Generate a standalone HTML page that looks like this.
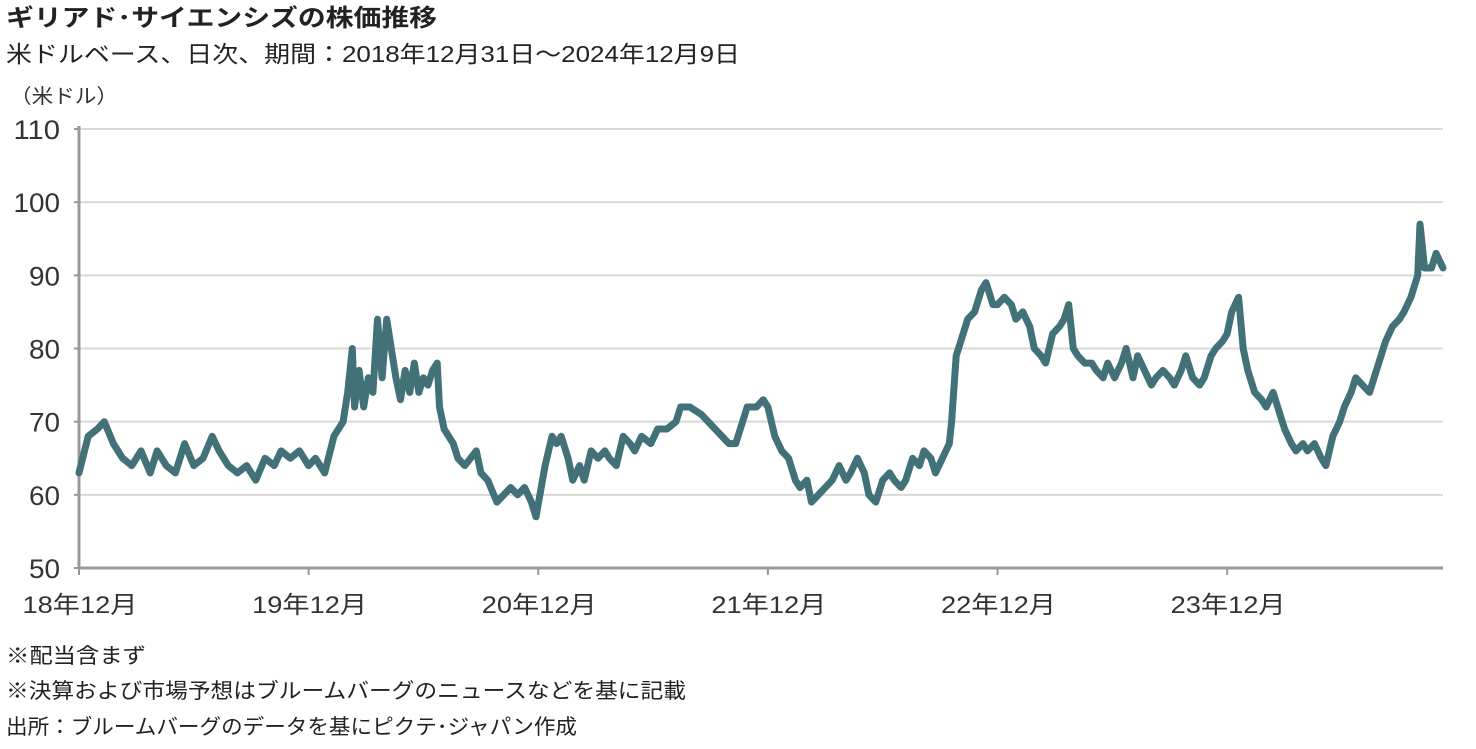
<!DOCTYPE html>
<html><head><meta charset="utf-8">
<style>
body{margin:0;background:#fff;width:1476px;height:749px;overflow:hidden;font-family:"Liberation Sans","Noto Sans CJK JP",sans-serif;color:#222}
</style></head><body>
<svg id="chart" width="1476" height="749" style="position:absolute;left:0;top:0" font-family='"Liberation Sans","Noto Sans CJK JP",sans-serif'>
<text x="6" y="26" font-size="24" font-weight="bold" fill="#222" textLength="431" lengthAdjust="spacingAndGlyphs">ギリアド･サイエンシズの株価推移</text>
<text x="6" y="62" font-size="23" fill="#222" textLength="734" lengthAdjust="spacingAndGlyphs">米ドルベース、日次、期間：2018年12月31日～2024年12月9日</text>
<text x="10" y="103" font-size="20" fill="#333" textLength="108" lengthAdjust="spacingAndGlyphs">（米ドル）</text>
<text x="6" y="663" font-size="21" fill="#222" textLength="140" lengthAdjust="spacingAndGlyphs">※配当含まず</text>
<text x="6" y="698" font-size="21" fill="#222" textLength="680" lengthAdjust="spacingAndGlyphs">※決算および市場予想はブルームバーグのニュースなどを基に記載</text>
<text x="6" y="734" font-size="21" fill="#222" textLength="571" lengthAdjust="spacingAndGlyphs">出所：ブルームバーグのデータを基にピクテ･ジャパン作成</text>
</svg>
<script>
const yTicks=[50,60,70,80,90,100,110];
const xTickLabels=["18年12月","19年12月","20年12月","21年12月","22年12月","23年12月"];
const xTickYears=[0,1,2,3,4,5];
const tYears=[0,.04,.08,.11,.15,.19,.23,.27,.31,.34,.38,.42,.46,.50,.54,.58,.61,.65,.69,.73,.77,.81,.85,.88,.92,.96,1.00,
1.03,1.07,1.11,1.15,1.17,1.19,1.20,1.22,1.24,1.26,1.28,1.30,1.32,1.34,1.36,1.38,1.40,1.42,1.44,1.46,1.48,1.50,1.52,1.54,1.56,1.57,1.59,1.63,1.65,1.68,1.73,1.75,1.78,1.82,1.85,1.88,1.91,1.94,1.97,1.99,
2.03,2.06,2.08,2.10,2.13,2.15,2.18,2.20,2.23,2.26,2.29,2.31,2.34,2.37,2.40,2.42,2.45,2.49,2.52,2.56,2.60,2.62,2.66,2.71,2.74,2.77,2.80,2.83,2.86,2.89,2.91,2.95,2.98,3.00,
3.03,3.06,3.09,3.12,3.14,3.17,3.19,3.22,3.25,3.28,3.31,3.34,3.36,3.39,3.42,3.44,3.47,3.50,3.53,3.55,3.58,3.60,3.63,3.66,3.68,3.71,3.73,3.76,3.79,3.80,3.82,3.85,3.87,3.90,3.93,3.95,3.98,4.00,
4.03,4.06,4.08,4.11,4.14,4.16,4.19,4.21,4.24,4.27,4.29,4.31,4.33,4.35,4.38,4.41,4.43,4.46,4.48,4.51,4.54,4.56,4.59,4.61,4.64,4.67,4.69,4.72,4.75,4.77,4.80,4.82,4.85,4.88,4.90,4.93,4.95,4.98,5.00,
5.02,5.05,5.07,5.09,5.12,5.15,5.17,5.20,5.22,5.25,5.28,5.30,5.33,5.35,5.38,5.41,5.43,5.46,5.49,5.51,5.54,5.56,5.59,5.62,5.64,5.67,5.69,5.72,5.75,5.77,5.80,5.83,5.84,5.86,5.89,5.91,5.94];
const prices=[63,68,69,70,67,65,64,66,63,66,64,63,67,64,65,68,66,64,63,64,62,65,64,66,65,66,64,
65,63,68,70,74,80,72,77,72,76,74,84,76,84,80,76,73,77,74,78,74,76,75,77,78,72,69,67,65,64,66,63,62,59,60,61,60,61,59,57,
64,68,67,68,65,62,64,62,66,65,66,65,64,68,67,66,68,67,69,69,70,72,72,71,70,69,68,67,67,70,72,72,73,72,
68,66,65,62,61,62,59,60,61,62,64,62,63,65,63,60,59,62,63,62,61,62,65,64,66,65,63,65,67,70,79,82,84,85,88,89,86,86,
87,86,84,85,83,80,79,78,82,83,84,86,80,79,78,78,77,76,78,76,78,80,76,79,77,75,76,77,76,75,77,79,76,75,76,79,80,81,82,
85,87,80,77,74,73,72,74,72,69,67,66,67,66,67,65,64,68,70,72,74,76,75,74,76,79,81,83,84,85,87,90,97,91,91,93,91];
const svg=document.getElementById('chart');const NS='http://www.w3.org/2000/svg';
const X0=79,X1=1443,Y0=568,Y1=129;
const xs=t=>X0+t/5.94*(X1-X0);
const ys=v=>Y0-(v-50)/60*(Y0-Y1);
function mk(tag,a){const e=document.createElementNS(NS,tag);for(const k in a)e.setAttribute(k,a[k]);svg.appendChild(e);return e;}
yTicks.forEach(v=>{
  if(v>50){const g=mk('line',{x1:X0,x2:X1,y1:ys(v),y2:ys(v),stroke:'#d9d9d9','stroke-width':2});
  
  }
  const tk=mk('line',{x1:X0-5,x2:X0,y1:ys(v),y2:ys(v),stroke:'#999','stroke-width':2});
  
  
  const tx=mk('text',{x:60,y:ys(v)+10,'text-anchor':'end','font-size':27,fill:'#333',textLength:(String(v).length*15.5),lengthAdjust:'spacingAndGlyphs'});
  tx.textContent=v;
  
  
});
const ax=mk('line',{x1:X0,x2:X0,y1:Y1-3,y2:Y0,stroke:'#999','stroke-width':3});


const bx=mk('line',{x1:X0,x2:X1,y1:Y0,y2:Y0,stroke:'#999','stroke-width':3});


xTickYears.forEach((t,i)=>{
  const tk=mk('line',{x1:xs(t),x2:xs(t),y1:Y0,y2:Y0+7,stroke:'#999','stroke-width':2});
  
  
  const tx=mk('text',{x:xs(t)+1,y:613,'text-anchor':'middle','font-size':24,fill:'#333',textLength:115,lengthAdjust:'spacingAndGlyphs'});
  tx.textContent=xTickLabels[i];
  
  
});
const d=prices.map((v,i)=>(i?'L':'M')+xs(tYears[i]).toFixed(1)+' '+ys(v).toFixed(1)).join(' ');
const p=mk('path',{d:d,fill:'none',stroke:'#437178','stroke-width':7,'stroke-linejoin':'round','stroke-linecap':'round'});


</script>
</body></html>
